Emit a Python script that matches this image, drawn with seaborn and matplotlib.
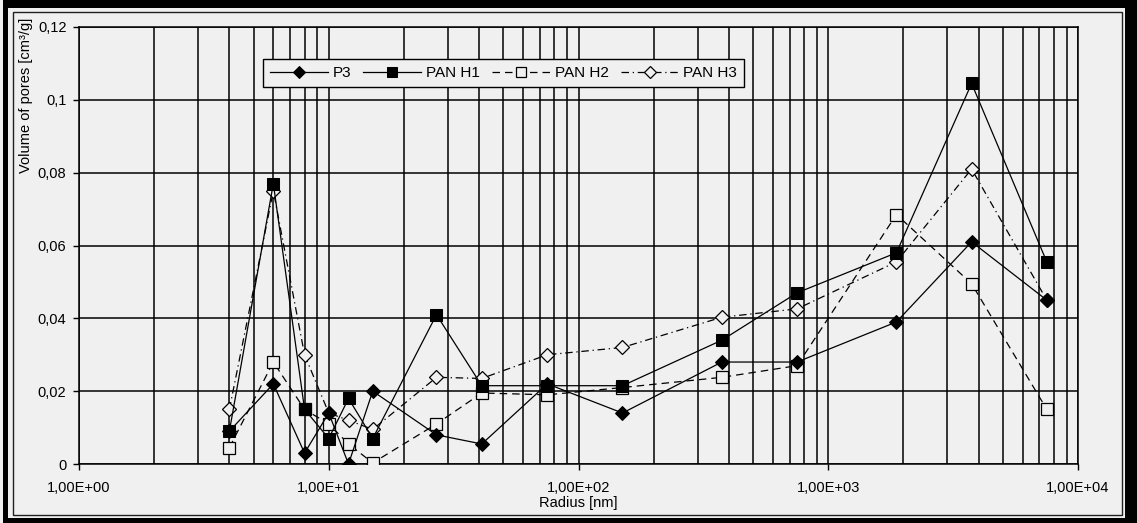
import matplotlib
matplotlib.use("Agg")
import matplotlib.pyplot as plt
import matplotlib.patches as mpatches
from matplotlib.ticker import LogLocator, FixedLocator, FixedFormatter, NullFormatter
import seaborn as sns

# radius [nm]
radius = [4, 6, 8, 10, 12, 15, 27, 41, 75, 150, 375, 750, 1875, 3750, 7500]

p3 = [0.009, 0.022, 0.003, 0.014, 0.000, 0.020, 0.008, 0.0055, 0.022, 0.014, 0.028, 0.028, 0.039, 0.061, 0.045]
pan_h1 = [0.009, 0.077, 0.015, 0.007, 0.018, 0.007, 0.041, 0.0215, 0.0215, 0.0215, 0.034, 0.047, 0.058, 0.1045, 0.0555]
pan_h2 = [0.0045, 0.028, 0.015, 0.011, 0.0055, 0.0003, 0.011, 0.0195, 0.019, 0.021, 0.0238, 0.027, 0.0685, 0.0495, 0.015]
pan_h3 = [0.015, 0.075, 0.030, 0.014, 0.012, 0.0095, 0.0238, 0.0235, 0.030, 0.032, 0.0403, 0.0426, 0.0555, 0.081, 0.045]

xticks = [1, 10, 100, 1000, 10000]
xlabels = ["1,00E+00", "1,00E+01", "1,00E+02", "1,00E+03", "1,00E+04"]
yticks = [0, 0.02, 0.04, 0.06, 0.08, 0.1, 0.12]
ylabels = ["0", "0,02", "0,04", "0,06", "0,08", "0,1", "0,12"]

W, H = 1137, 523
bg = "#f0f0f0"
plt.rcParams["font.family"] = ["Liberation Sans", "DejaVu Sans"]
plt.rcParams["font.size"] = 10.5

fig = plt.figure(figsize=(W / 100, H / 100), dpi=100, facecolor=bg)


def fx(px):
    return px / W


def fy(py):
    return 1 - py / H


# outer frame
fig.add_artist(mpatches.Rectangle((fx(3), 0), fx(W - 3), 1, transform=fig.transFigure,
                                  facecolor="black", edgecolor="none", zorder=0))
fig.add_artist(mpatches.Rectangle((fx(8), fy(518)), fx(1125 - 8), fy(8) - fy(518),
                                  transform=fig.transFigure, facecolor=bg, edgecolor="none", zorder=0))
fig.add_artist(mpatches.Rectangle((fx(13), fy(515)), fx(1122 - 13), fy(12) - fy(515),
                                  transform=fig.transFigure, facecolor="none", edgecolor="#202020",
                                  lw=1.0, zorder=0))

ax = fig.add_axes([fx(79), fy(464), fx(1078 - 79), fy(27) - fy(464)])
ax.set_facecolor(bg)

sns.lineplot(x=radius, y=pan_h3, ax=ax, color="black", lw=0.9, linestyle=(0, (6, 3, 1, 3)),
             marker="D", markersize=7, markerfacecolor=bg, markeredgecolor="black",
             markeredgewidth=0.9, label="PAN H3", zorder=3)
sns.lineplot(x=radius, y=pan_h2, ax=ax, color="black", lw=0.9, linestyle=(0, (6, 4)),
             marker="s", markersize=8, markerfacecolor=bg, markeredgecolor="black",
             markeredgewidth=0.9, label="PAN H2", zorder=4)
sns.lineplot(x=radius, y=p3, ax=ax, color="black", lw=0.9, linestyle="-",
             marker="D", markersize=7, markerfacecolor="black", markeredgecolor="black",
             label="P3", zorder=5)
sns.lineplot(x=radius, y=pan_h1, ax=ax, color="black", lw=0.9, linestyle="-",
             marker="s", markersize=9, markerfacecolor="black", markeredgecolor="black",
             label="PAN H1", zorder=6)

ax.set_xscale("log")
ax.set_xlim(1, 10000)
ax.set_ylim(0, 0.12)
ax.xaxis.set_major_locator(FixedLocator(xticks))
ax.xaxis.set_major_formatter(FixedFormatter(xlabels))
ax.xaxis.set_minor_locator(LogLocator(base=10, subs=range(2, 10)))
ax.xaxis.set_minor_formatter(NullFormatter())
ax.set_yticks(yticks)
ax.set_yticklabels(ylabels)
ax.tick_params(which="major", length=4, width=1, color="black", labelsize=10.5)
ax.tick_params(axis="x", which="major", pad=8)
ax.tick_params(axis="y", which="major", pad=5)
ax.tick_params(which="minor", length=0)
ax.grid(True, which="major", axis="both", color="black", lw=1.1, zorder=1)
ax.grid(True, which="minor", axis="x", color="black", lw=1.1, zorder=1)
ax.set_axisbelow(True)
for s in ax.spines.values():
    s.set_color("black")
    s.set_linewidth(1.1)

ax.set_xlabel("Radius [nm]", fontsize=10.5, labelpad=1)
ax.set_ylabel("")
fig.text(fx(26), fy(18), "Volume of pores [cm\u00b3/g]", rotation=90, ha="center", va="top", fontsize=10.5)

handles, labels = ax.get_legend_handles_labels()
order = ["P3", "PAN H1", "PAN H2", "PAN H3"]
hmap = dict(zip(labels, handles))
leg = ax.legend([hmap[k] for k in order], order, ncol=4, loc="upper left",
                bbox_to_anchor=((263 - 79) / 999, (464 - 59) / 437), frameon=True,
                fancybox=False, edgecolor="black", facecolor=bg, framealpha=1,
                fontsize=11, handlelength=3.8, columnspacing=0.8, handletextpad=0.3,
                borderpad=0.45, borderaxespad=0, markerscale=0.85)
leg.get_frame().set_linewidth(1.0)
leg.set_zorder(10)

fig.savefig("out.png", dpi=100, facecolor=bg)
